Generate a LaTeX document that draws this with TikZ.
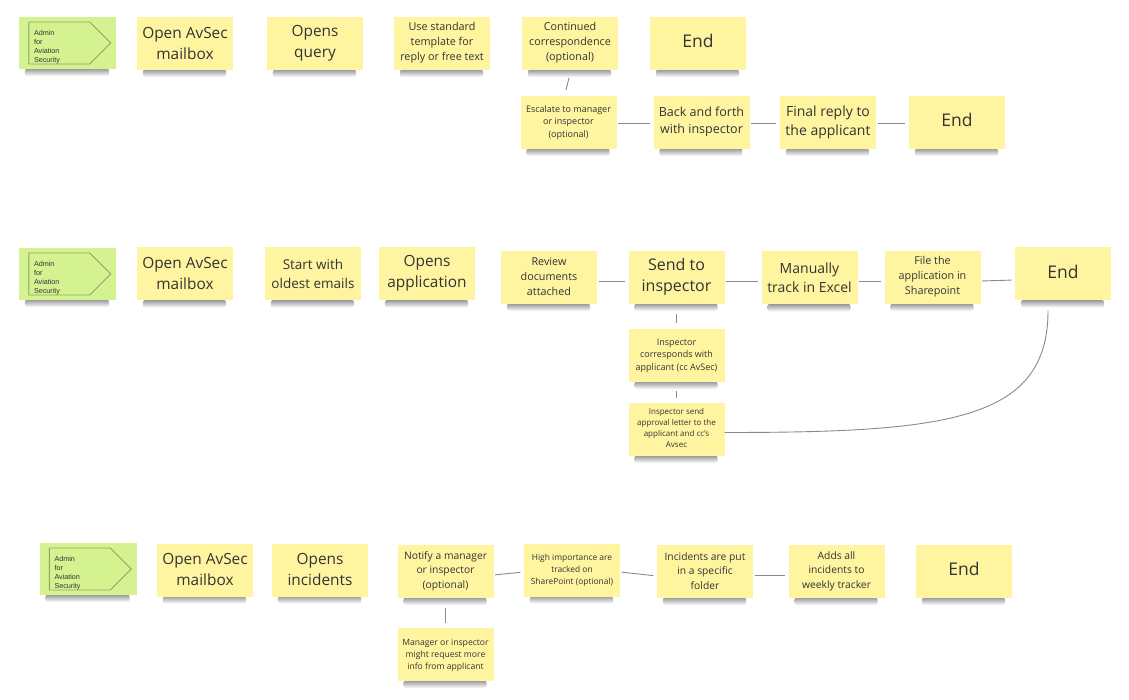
\documentclass[tikz,border=0pt]{standalone}
\usepackage{fontspec}
\setmainfont{Open Sans}
\newfontfamily\admfont{Liberation Sans}
\usetikzlibrary{backgrounds,calc}
\definecolor{notey}{HTML}{FFF5A1}
\definecolor{noteg}{HTML}{D5F291}
\definecolor{pentc}{HTML}{8FA565}
\definecolor{txtc}{HTML}{333333}
\definecolor{linec}{HTML}{8A8A8A}
\tikzset{
  note/.style={fill=notey, minimum width=96pt, minimum height=53pt, inner sep=0pt, draw=none},
  gnote/.style={fill=noteg, minimum width=97pt, minimum height=52pt, inner sep=0pt, draw=none},
  ntext/.style={align=center, text=txtc, inner sep=0pt},
  admtext/.style={align=left, text=txtc, inner sep=0pt, font=\admfont\fontsize{7.2}{9}\selectfont},
  conn/.style={draw=linec, line width=0.9pt, shorten <=1.5pt, shorten >=3.5pt},
  vconn/.style={draw=linec, line width=0.9pt},
  pent/.style={draw=pentc, line width=0.9pt},
  fA/.style={font=\fontsize{15.4}{21}\selectfont},
  fSend/.style={font=\fontsize{16}{21}\selectfont},
  fE/.style={font=\fontsize{17.5}{24}\selectfont, yshift=2pt},
  fB/.style={font=\fontsize{14}{19}\selectfont},
  fStart/.style={font=\fontsize{13.5}{19}\selectfont},
  fBack/.style={font=\fontsize{12.5}{17}\selectfont},
  fC/.style={font=\fontsize{10.8}{15}\selectfont},
  fN/.style={font=\fontsize{10.3}{14.5}\selectfont},
  fD/.style={font=\fontsize{9}{12.5}\selectfont, yshift=-0.5pt},
  fM/.style={font=\fontsize{8.6}{12}\selectfont, yshift=-1pt},
  fH/.style={font=\fontsize{8.4}{12}\selectfont, yshift=-0.5pt},
  fS/.style={font=\fontsize{8}{11}\selectfont, yshift=1pt},
}
\newcommand\mknote[5]{%
  \node[note] (#1) at (#2,#3) {};
  \node[ntext,#4] (#1t) at ([yshift=0.5pt]#1.center) {#5};
}
\newcommand\mkadmin[3]{%
  \node[gnote] (#1) at (#2,#3) {};
  \draw[pent] ($(#1.west)+(10,-21)$) -- ($(#1.west)+(71,-21)$) -- ($(#1.west)+(92,0)$)
     -- ($(#1.west)+(71,21)$) -- ($(#1.west)+(10,21)$) -- cycle;
  \node[admtext, anchor=west] (#1t) at ($(#1.west)+(15,4.5)$) {Admin\\for\\Aviation\\Security};
}
\begin{document}
\begin{tikzpicture}[x=1pt,y=-1pt]
\useasboundingbox (0,0) rectangle (1129,700);

% ---------- Row 1 ----------
\mkadmin{adm1}{67.5}{43}
\mknote{open1}{185}{43.5}{fA}{Open AvSec\\mailbox}
\mknote{query}{315}{43.5}{fA}{Opens\\query}
\mknote{templ}{442}{43.5}{fC}{Use standard\\template for\\reply or free text}
\mknote{cont}{570}{43.5}{fC}{Continued\\correspondence\\(optional)}
\mknote{endA}{698}{43.5}{fE}{End}
\mknote{esc}{568.5}{122.5}{fD}{Escalate to manager\\or inspector\\(optional)}
\mknote{back}{701.5}{122.5}{fBack}{Back and forth\\with inspector}
\mknote{final}{828}{122.5}{fB}{Final reply to\\the applicant}
\mknote{endB}{957}{122.5}{fE}{End}

% ---------- Row 2 ----------
\mkadmin{adm2}{67.5}{274}
\mknote{open2}{185}{274}{fA}{Open AvSec\\mailbox}
\mknote{start}{313}{274}{fStart}{Start with\\oldest emails}
\mknote{openapp}{427}{274}{fA}{Opens\\application}
\mknote{review}{549}{277.5}{fC}{Review\\documents\\attached}
\mknote{send}{676.5}{277.5}{fSend}{Send to\\inspector}
\mknote{manual}{809.5}{278}{fB}{Manually\\track in Excel}
\mknote{file}{932.5}{277.5}{fC}{File the\\application in\\Sharepoint}
\mknote{endC}{1063}{274}{fE}{End}
\mknote{corr}{676.5}{355.5}{fD}{Inspector\\corresponds with\\applicant (cc AvSec)}
\mknote{appr}{676.5}{429.5}{fS}{Inspector send\\approval letter to the\\applicant and cc's\\Avsec}

% ---------- Row 3 ----------
\mkadmin{adm3}{88}{569}
\mknote{open3}{205}{570}{fA}{Open AvSec\\mailbox}
\mknote{incid}{320}{570}{fA}{Opens\\incidents}
\mknote{notify}{445.5}{571.5}{fN}{Notify a manager\\or inspector\\(optional)}
\mknote{high}{572}{570}{fH}{High importance are\\tracked on\\SharePoint (optional)}
\mknote{put}{705}{571.5}{fN}{Incidents are put\\in a specific\\folder}
\mknote{adds}{836.5}{571.5}{fN}{Adds all\\incidents to\\weekly tracker}
\mknote{endD}{964}{571.5}{fE}{End}
\mknote{mgr}{445.5}{654.5}{fM}{Manager or inspector\\might request more\\info from applicant}

% ---------- Connectors ----------
\draw[vconn, shorten <=8pt, shorten >=6pt] ([xshift=1pt]cont.south) -- ([xshift=-4pt]esc.north);
\draw[conn] ([yshift=-1pt]esc.east) -- ([yshift=-1pt]back.west);
\draw[conn] ([yshift=-1pt]back.east) -- ([yshift=-1pt]final.west);
\draw[conn] ([yshift=-1pt]final.east) -- ([yshift=-1pt]endB.west);

\draw[conn] ([yshift=-3.5pt]review.east) -- ([yshift=-3.5pt]send.west);
\draw[conn] ([yshift=-3.5pt]send.east) -- ([yshift=-3pt]manual.west);
\draw[conn] ([yshift=-3pt]manual.east) -- ([yshift=-3.5pt]file.west);
\draw[conn] ([yshift=-3.5pt]file.east) -- ([yshift=-6pt]endC.west);
\draw[vconn, shorten <=10pt, shorten >=6pt] (send.south) -- (corr.north);
\draw[vconn, shorten <=9pt, shorten >=5pt] (corr.south) -- (appr.north);
\draw[vconn] ([yshift=-3pt]appr.east) .. controls +(223,0) and +(0,110) .. ([xshift=-15pt,yshift=-10pt]endC.south);

\draw[conn] ([yshift=-3.5pt]notify.east) -- ([yshift=-2pt]high.west);
\draw[conn] ([yshift=-2pt]high.east) -- ([yshift=-4.5pt]put.west);
\draw[conn] ([yshift=-3.5pt]put.east) -- ([yshift=-3.5pt]adds.west);
\draw[vconn, shorten <=10pt, shorten >=5pt] (notify.south) -- (mgr.north);

% ---------- Background and shadows ----------
\begin{pgfonlayer}{background}
\fill[white] (0,0) rectangle (1129,700);
\foreach \n in {adm1,open1,query,templ,cont,endA,esc,back,final,endB,
                adm2,open2,start,openapp,review,send,manual,file,endC,corr,appr,
                adm3,open3,incid,notify,high,put,adds,endD,mgr}{
  \shade[top color=black!42, bottom color=white, rounded corners=3pt]
    ([xshift=6pt,yshift=1pt]\n.south west) rectangle ([xshift=-7pt,yshift=-7pt]\n.south east);
}
\end{pgfonlayer}
\end{tikzpicture}
\end{document}
